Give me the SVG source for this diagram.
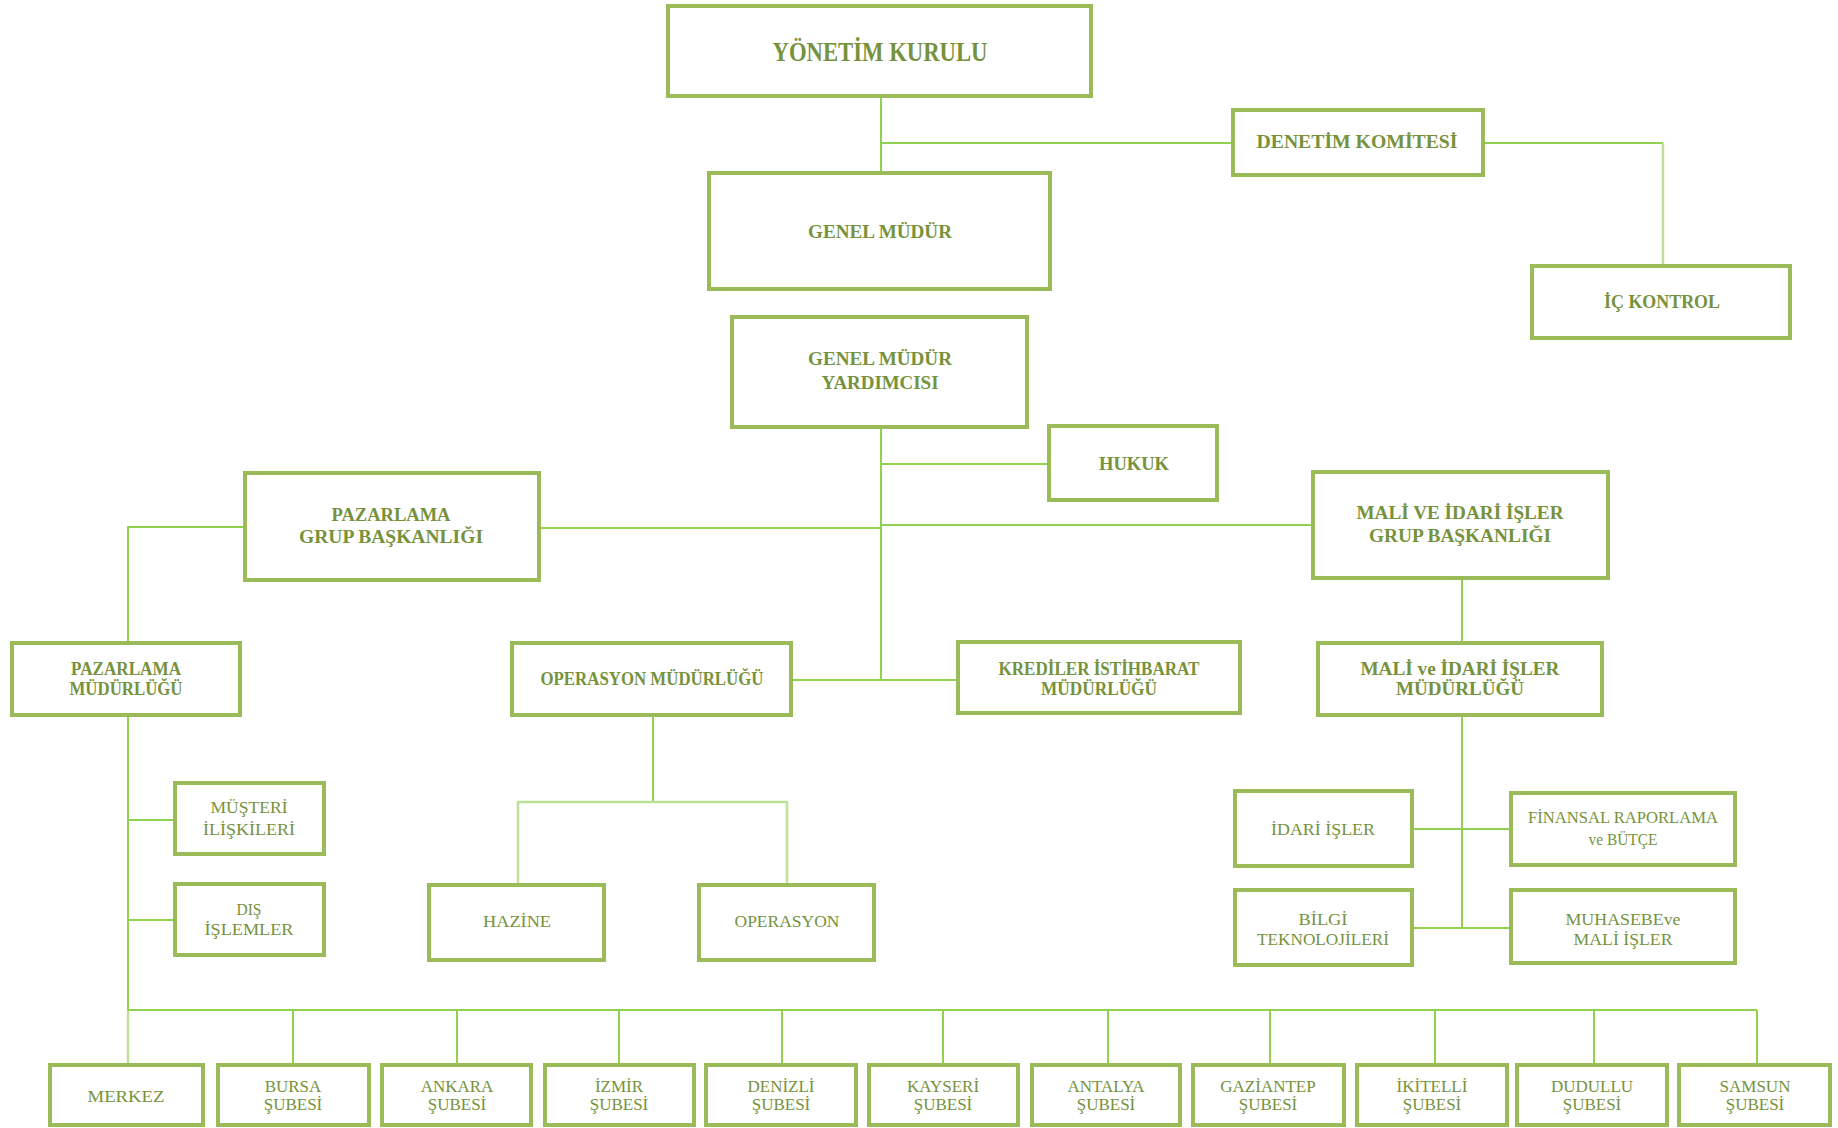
<svg xmlns="http://www.w3.org/2000/svg" width="1838" height="1128" viewBox="0 0 1838 1128">
<style>
.b{fill:#fff;stroke:#9BBB59;stroke-width:4}
.t{font-family:"Liberation Serif",serif;font-weight:bold;font-size:18px;fill:#76923C;text-anchor:middle}
.l{font-family:"Liberation Serif",serif;font-size:17px;fill:#76923C;text-anchor:middle}
.c{fill:none;stroke:#92D050;stroke-width:2}
.p{fill:none;stroke:#BBE295;stroke-width:2.5}
</style>
<rect width="1838" height="1128" fill="#fff"/>
<g id="connectors">
<path class="c" d="M881 96V173M881 143H1233"/>
<path class="c" d="M1483 143H1663"/>
<path class="p" d="M1663 143V266"/>
<path class="c" d="M881 427V680M881 464H1049M539 528H881M881 525H1313"/>
<path class="c" d="M245 527H128V643"/>
<path class="c" d="M791 680H958"/>
<path class="c" d="M1462 578V643M1462 715V928M1412 829H1511M1412 928H1511"/>
<path class="c" d="M653 715V802"/>
<path class="p" d="M518 885V802H787V885"/>
<path class="c" d="M128 715V1010M128 820H175M128 920H175"/>
<path class="p" d="M128 1010V1065"/>
<path class="c" d="M128 1010H1757M293 1010V1065M457 1010V1065M619 1010V1065M782 1010V1065M943 1010V1065M1108 1010V1065M1270 1010V1065M1435 1010V1065M1594 1010V1065M1757 1010V1065"/>
</g>
<g id="yonetim"><rect class="b" x="668" y="6" width="423" height="90"/><text class="t" x="880" y="61" style="font-size:27px" textLength="215" lengthAdjust="spacingAndGlyphs">YÖNETİM  KURULU</text></g>
<g id="genel-mudur"><rect class="b" x="709" y="173" width="341" height="116"/><text class="t" x="880" y="238" textLength="144" lengthAdjust="spacingAndGlyphs">GENEL MÜDÜR</text></g>
<g id="denetim"><rect class="b" x="1233" y="110" width="250" height="65"/><text class="t" x="1357" y="148" textLength="201" lengthAdjust="spacingAndGlyphs">DENETİM KOMİTESİ</text></g>
<g id="ic-kontrol"><rect class="b" x="1532" y="266" width="258" height="72"/><text class="t" x="1662" y="308" textLength="116" lengthAdjust="spacingAndGlyphs">İÇ KONTROL</text></g>
<g id="gmy"><rect class="b" x="732" y="317" width="295" height="110"/><text class="t" x="880" y="365" textLength="144" lengthAdjust="spacingAndGlyphs">GENEL MÜDÜR</text><text class="t" x="880" y="389" textLength="117" lengthAdjust="spacingAndGlyphs">YARDIMCISI</text></g>
<g id="hukuk"><rect class="b" x="1049" y="426" width="168" height="74"/><text class="t" x="1134" y="470" textLength="70" lengthAdjust="spacingAndGlyphs">HUKUK</text></g>
<g id="pazarlama-grup"><rect class="b" x="245" y="473" width="294" height="107"/><text class="t" x="391" y="521" textLength="119" lengthAdjust="spacingAndGlyphs">PAZARLAMA</text><text class="t" x="391" y="543" textLength="184" lengthAdjust="spacingAndGlyphs">GRUP BAŞKANLIĞI</text></g>
<g id="mali-grup"><rect class="b" x="1313" y="472" width="295" height="106"/><text class="t" x="1460" y="519" textLength="207" lengthAdjust="spacingAndGlyphs">MALİ VE İDARİ İŞLER</text><text class="t" x="1460" y="542" textLength="182" lengthAdjust="spacingAndGlyphs">GRUP BAŞKANLIĞI</text></g>
<g id="pazarlama-mud"><rect class="b" x="12" y="643" width="228" height="72"/><text class="t" x="126" y="675" textLength="110" lengthAdjust="spacingAndGlyphs">PAZARLAMA</text><text class="t" x="126" y="695" textLength="113" lengthAdjust="spacingAndGlyphs">MÜDÜRLÜĞÜ</text></g>
<g id="operasyon-mud"><rect class="b" x="512" y="643" width="279" height="72"/><text class="t" x="652" y="685" textLength="223" lengthAdjust="spacingAndGlyphs">OPERASYON MÜDÜRLÜĞÜ</text></g>
<g id="krediler"><rect class="b" x="958" y="642" width="282" height="71"/><text class="t" x="1099" y="675" textLength="201" lengthAdjust="spacingAndGlyphs">KREDİLER İSTİHBARAT</text><text class="t" x="1099" y="695" textLength="116" lengthAdjust="spacingAndGlyphs">MÜDÜRLÜĞÜ</text></g>
<g id="mali-mud"><rect class="b" x="1318" y="643" width="284" height="72"/><text class="t" x="1460" y="675" textLength="199" lengthAdjust="spacingAndGlyphs">MALİ ve İDARİ İŞLER</text><text class="t" x="1460" y="695" textLength="128" lengthAdjust="spacingAndGlyphs">MÜDÜRLÜĞÜ</text></g>
<g id="musteri"><rect class="b" x="175" y="783" width="149" height="71"/><text class="l" x="249" y="813" textLength="77" lengthAdjust="spacingAndGlyphs">MÜŞTERİ</text><text class="l" x="249" y="835" textLength="92" lengthAdjust="spacingAndGlyphs">İLİŞKİLERİ</text></g>
<g id="dis"><rect class="b" x="175" y="884" width="149" height="71"/><text class="l" x="249" y="915" textLength="25" lengthAdjust="spacingAndGlyphs">DIŞ</text><text class="l" x="249" y="935" textLength="89" lengthAdjust="spacingAndGlyphs">İŞLEMLER</text></g>
<g id="hazine"><rect class="b" x="429" y="885" width="175" height="75"/><text class="l" x="517" y="927" textLength="68" lengthAdjust="spacingAndGlyphs">HAZİNE</text></g>
<g id="operasyon"><rect class="b" x="699" y="885" width="175" height="75"/><text class="l" x="787" y="927" textLength="105" lengthAdjust="spacingAndGlyphs">OPERASYON</text></g>
<g id="idari"><rect class="b" x="1235" y="791" width="177" height="75"/><text class="l" x="1323" y="835" textLength="104" lengthAdjust="spacingAndGlyphs">İDARİ İŞLER</text></g>
<g id="finansal"><rect class="b" x="1511" y="793" width="224" height="72"/><text class="l" x="1623" y="823" textLength="190" lengthAdjust="spacingAndGlyphs">FİNANSAL RAPORLAMA</text><text class="l" x="1623" y="845" textLength="69" lengthAdjust="spacingAndGlyphs">ve BÜTÇE</text></g>
<g id="bilgi"><rect class="b" x="1235" y="890" width="177" height="75"/><text class="l" x="1323" y="925" textLength="49" lengthAdjust="spacingAndGlyphs">BİLGİ</text><text class="l" x="1323" y="945" textLength="132" lengthAdjust="spacingAndGlyphs">TEKNOLOJİLERİ</text></g>
<g id="muhasebe"><rect class="b" x="1511" y="890" width="224" height="73"/><text class="l" x="1623" y="925" textLength="115" lengthAdjust="spacingAndGlyphs">MUHASEBEve</text><text class="l" x="1623" y="945" textLength="99" lengthAdjust="spacingAndGlyphs">MALİ İŞLER</text></g>
<g id="merkez"><rect class="b" x="50" y="1065" width="153" height="60"/><text class="l" x="126" y="1102" textLength="77" lengthAdjust="spacingAndGlyphs">MERKEZ</text></g>
<g id="bursa"><rect class="b" x="218" y="1065" width="151" height="60"/><text class="l" x="293" y="1092">BURSA</text><text class="l" x="293" y="1110">ŞUBESİ</text></g>
<g id="ankara"><rect class="b" x="382" y="1065" width="149" height="60"/><text class="l" x="457" y="1092">ANKARA</text><text class="l" x="457" y="1110">ŞUBESİ</text></g>
<g id="izmir"><rect class="b" x="545" y="1065" width="149" height="60"/><text class="l" x="619" y="1092">İZMİR</text><text class="l" x="619" y="1110">ŞUBESİ</text></g>
<g id="denizli"><rect class="b" x="706" y="1065" width="150" height="60"/><text class="l" x="781" y="1092">DENİZLİ</text><text class="l" x="781" y="1110">ŞUBESİ</text></g>
<g id="kayseri"><rect class="b" x="869" y="1065" width="149" height="60"/><text class="l" x="943" y="1092">KAYSERİ</text><text class="l" x="943" y="1110">ŞUBESİ</text></g>
<g id="antalya"><rect class="b" x="1032" y="1065" width="148" height="60"/><text class="l" x="1106" y="1092">ANTALYA</text><text class="l" x="1106" y="1110">ŞUBESİ</text></g>
<g id="gaziantep"><rect class="b" x="1193" y="1065" width="151" height="60"/><text class="l" x="1268" y="1092">GAZİANTEP</text><text class="l" x="1268" y="1110">ŞUBESİ</text></g>
<g id="ikitelli"><rect class="b" x="1357" y="1065" width="150" height="60"/><text class="l" x="1432" y="1092">İKİTELLİ</text><text class="l" x="1432" y="1110">ŞUBESİ</text></g>
<g id="dudullu"><rect class="b" x="1517" y="1065" width="150" height="60"/><text class="l" x="1592" y="1092">DUDULLU</text><text class="l" x="1592" y="1110">ŞUBESİ</text></g>
<g id="samsun"><rect class="b" x="1679" y="1065" width="151" height="60"/><text class="l" x="1755" y="1092">SAMSUN</text><text class="l" x="1755" y="1110">ŞUBESİ</text></g>
</svg>
